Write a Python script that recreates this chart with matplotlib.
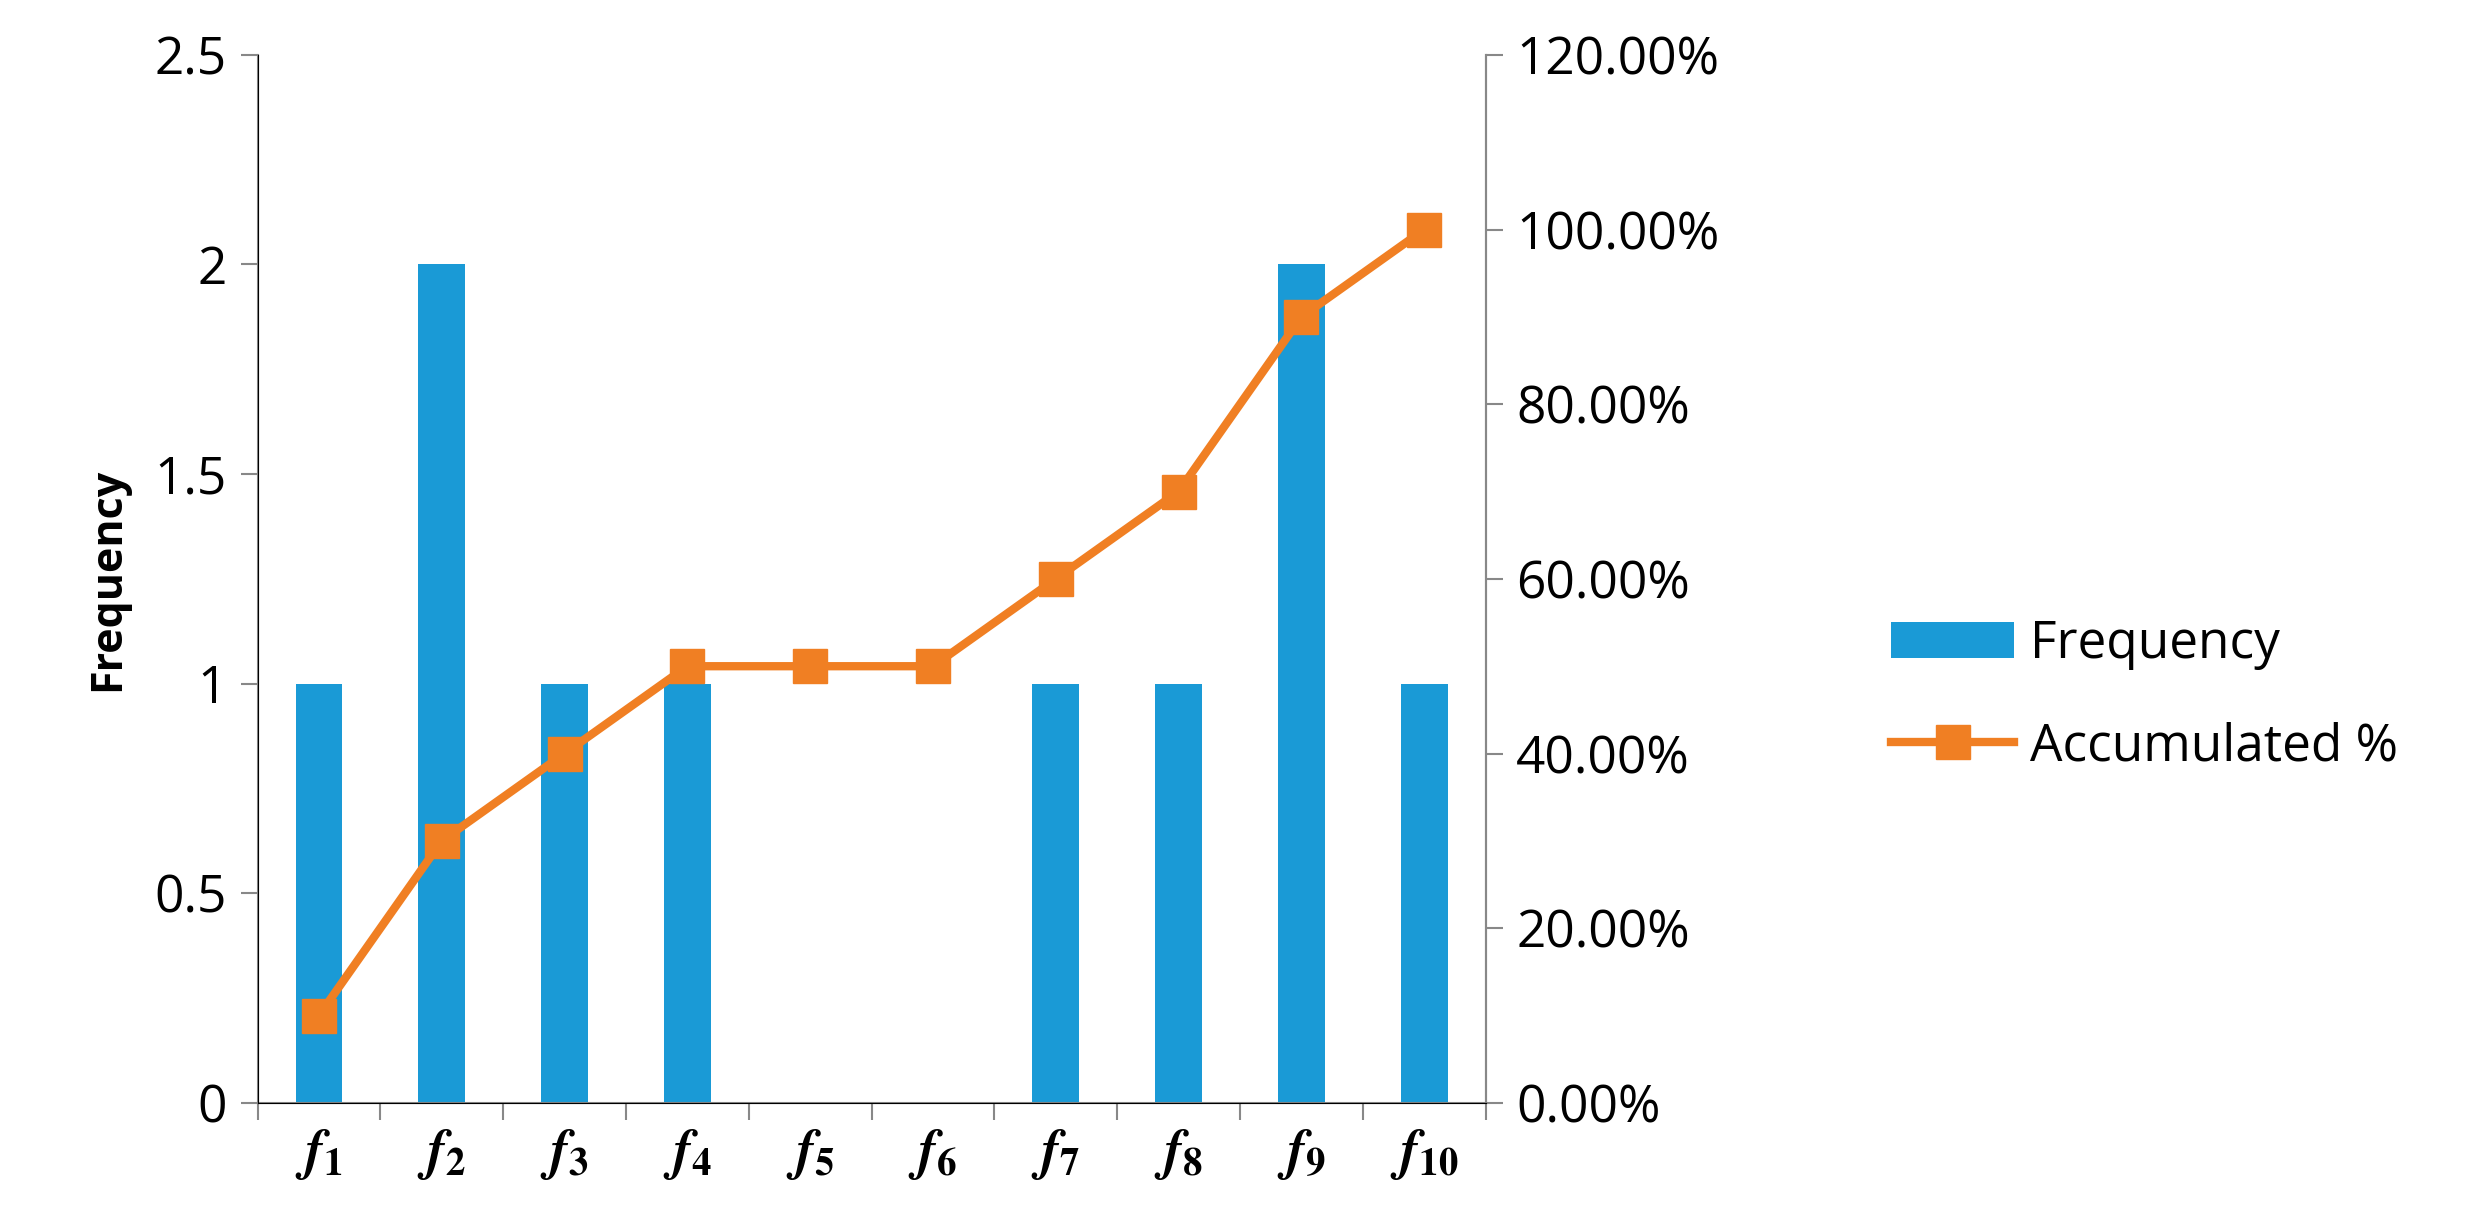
import numpy as np
import matplotlib.pyplot as plt
from matplotlib.ticker import FuncFormatter

labels = [r"$\boldsymbol{f}_{\mathbf{%d}}$" % i for i in range(1, 11)]
frequency = [1, 2, 1, 1, 0, 0, 1, 1, 2, 1]
accumulated = [10, 30, 40, 50, 50, 50, 60, 70, 90, 100]

BLUE = "#1a9ad6"
ORANGE = "#f07f23"

plt.rcParams.update({"font.family": "Open Sans", "mathtext.fontset": "stix"})

fig = plt.figure(figsize=(24.76, 12.2), dpi=100)
ax = fig.add_axes([0.104, 0.096, 0.496, 0.859])
x = np.arange(len(labels))

ax.bar(x, frequency, width=0.38, color=BLUE, label="Frequency", zorder=2)
ax.set_ylim(0, 2.5)
ax.set_xlim(-0.5, len(labels) - 0.5)
ax.set_yticks([0, 0.5, 1, 1.5, 2, 2.5])
ax.set_yticklabels(["0", "0.5", "1", "1.5", "2", "2.5"])
ax.set_xticks(x)
ax.set_xticklabels(labels)
ax.set_xticks(np.arange(-0.5, len(labels)), minor=True)
ax.tick_params(axis="x", which="major", length=0, labelsize=40, pad=16)
ax.tick_params(axis="x", which="minor", length=12, width=1.5, color="#888888")
ax.tick_params(axis="y", labelsize=37, length=12, width=1.5, color="#888888", pad=10)
ax.set_ylabel("Frequency", fontsize=31, fontweight="bold", labelpad=18)
ax.spines["top"].set_visible(False)
for s in ["left", "bottom", "right"]:
    ax.spines[s].set_color("#888888")
    ax.spines[s].set_linewidth(1.5)

ax2 = ax.twinx()
ax2.plot(x, accumulated, color=ORANGE, lw=6, marker="s", ms=24,
         label="Accumulated %", zorder=3)
ax2.set_ylim(0, 120)
ax2.set_yticks(np.arange(0, 121, 20))
ax2.yaxis.set_major_formatter(FuncFormatter(lambda v, p: f"{v:.2f}%"))
ax2.tick_params(axis="y", labelsize=37, length=12, width=1.5, color="#888888", pad=10)
ax2.spines["top"].set_visible(False)
ax2.spines["right"].set_color("#888888")
ax2.spines["right"].set_linewidth(1.5)

h1, l1 = ax.get_legend_handles_labels()
h2, l2 = ax2.get_legend_handles_labels()
fig.legend(h1 + h2, l1 + l2, loc="center left", bbox_to_anchor=(0.745, 0.43),
           frameon=False, fontsize=37, handlelength=2.4, handletextpad=0.3,
           labelspacing=1.0)

fig.savefig("out.png", dpi=100)
